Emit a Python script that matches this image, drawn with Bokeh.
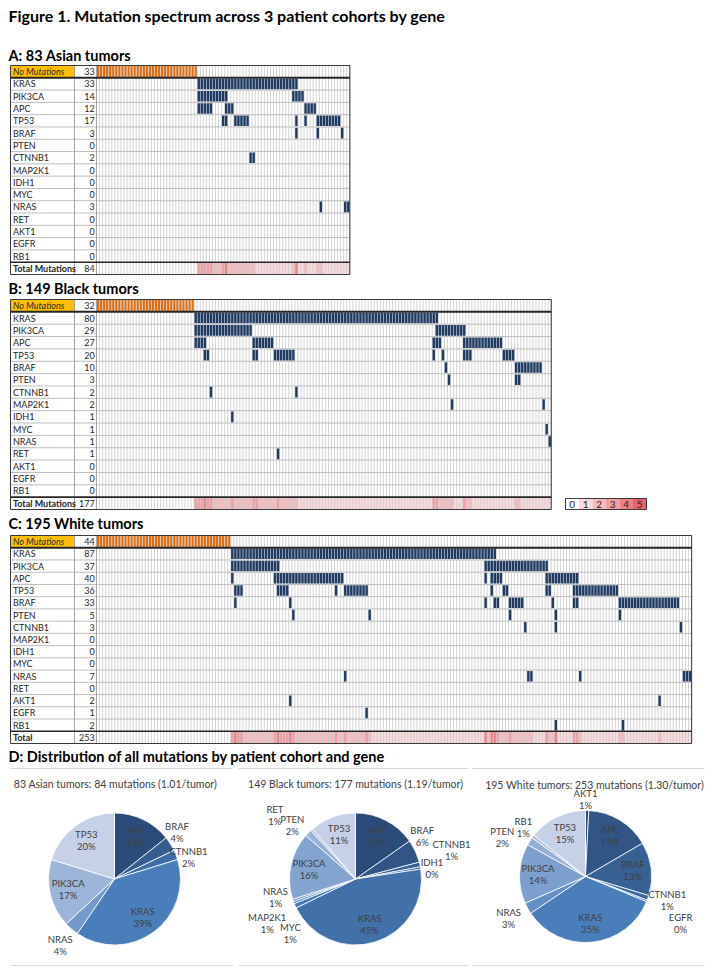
import numpy as np
from bokeh.plotting import figure
from bokeh.models import Range1d
from bokeh.layouts import column
from bokeh.core.properties import value
from bokeh.embed import file_html
from bokeh.resources import INLINE

# ---------------------------------------------------------------- data
TITLE = "Figure 1. Mutation spectrum across 3 patient cohorts by gene"
GENES = ["KRAS", "PIK3CA", "APC", "TP53", "BRAF", "PTEN", "CTNNB1", "MAP2K1",
         "IDH1", "MYC", "NRAS", "RET", "AKT1", "EGFR", "RB1"]

ASIAN_HEADING = "A: 83 Asian tumors"
ASIAN_N = 83
ASIAN_NONE = 33
ASIAN_COUNTS = [33, 14, 12, 17, 3, 0, 2, 0, 0, 0, 3, 0, 0, 0, 0]
ASIAN_TOTAL = 84
# mutated samples (index among mutated samples): [first, last] runs per gene
ASIAN_RUNS = {
    "KRAS": [[0, 32]],
    "PIK3CA": [[0, 9], [31, 34]],
    "APC": [[0, 4], [9, 11], [35, 38]],
    "TP53": [[8, 9], [12, 16], [32, 32], [35, 35], [39, 46]],
    "BRAF": [[32, 32], [39, 39], [47, 47]],
    "CTNNB1": [[17, 18]],
    "NRAS": [[40, 40], [48, 49]],
}

BLACK_HEADING = "B: 149 Black tumors"
BLACK_N = 149
BLACK_NONE = 32
BLACK_COUNTS = [80, 29, 27, 20, 10, 3, 2, 2, 1, 1, 1, 1, 0, 0, 0]
BLACK_TOTAL = 177
BLACK_RUNS = {
    "KRAS": [[0, 79]],
    "PIK3CA": [[0, 18], [79, 88]],
    "APC": [[0, 3], [19, 25], [78, 80], [88, 100]],
    "TP53": [[3, 4], [19, 20], [26, 32], [78, 78], [81, 81], [88, 90], [101, 104]],
    "BRAF": [[82, 82], [105, 113]],
    "PTEN": [[83, 83], [105, 106]],
    "CTNNB1": [[5, 5], [33, 33]],
    "MAP2K1": [[84, 84], [114, 114]],
    "IDH1": [[12, 12]],
    "MYC": [[115, 115]],
    "NRAS": [[116, 116]],
    "RET": [[27, 27]],
}

WHITE_HEADING = "C: 195 White tumors"
WHITE_N = 195
WHITE_NONE = 44
WHITE_COUNTS = [87, 37, 40, 36, 33, 5, 3, 0, 0, 0, 7, 0, 2, 1, 2]
WHITE_TOTAL = 253
WHITE_RUNS = {
    "KRAS": [[0, 86]],
    "PIK3CA": [[0, 15], [83, 103]],
    "APC": [[0, 0], [14, 36], [83, 83], [85, 88], [103, 113]],
    "TP53": [[1, 3], [15, 18], [34, 34], [37, 44], [85, 85], [89, 90], [103, 104], [112, 126]],
    "BRAF": [[1, 1], [19, 19], [83, 83], [86, 87], [91, 95], [105, 105], [112, 113], [127, 146]],
    "PTEN": [[20, 20], [45, 45], [91, 91], [106, 106], [127, 127]],
    "CTNNB1": [[96, 96], [106, 106], [147, 147]],
    "NRAS": [[37, 37], [97, 98], [114, 114], [148, 150]],
    "AKT1": [[19, 19], [140, 140]],
    "EGFR": [[44, 44]],
    "RB1": [[106, 106], [128, 128]],
}

SCALE_LEVELS = [0, 1, 2, 3, 4, 5]

D_HEADING = "D: Distribution of all mutations by patient cohort and gene"
PIE_ASIAN_TITLE = "83 Asian tumors: 84 mutations (1.01/tumor)"
PIE_ASIAN_GENES = ["APC", "BRAF", "CTNNB1", "KRAS", "NRAS", "PIK3CA", "TP53"]
PIE_ASIAN_VALUES = [12, 3, 2, 33, 3, 14, 17]
PIE_ASIAN_PCT = ["14%", "4%", "2%", "39%", "4%", "17%", "20%"]

PIE_BLACK_TITLE = "149 Black tumors: 177 mutations (1.19/tumor)"
PIE_BLACK_GENES = ["APC", "BRAF", "CTNNB1", "IDH1", "KRAS", "MAP2K1", "MYC", "NRAS",
                   "PIK3CA", "PTEN", "RET", "TP53"]
PIE_BLACK_VALUES = [27, 10, 2, 1, 80, 2, 1, 1, 29, 3, 1, 20]
PIE_BLACK_PCT = ["15%", "6%", "1%", "0%", "45%", "1%", "1%", "1%", "16%", "2%", "1%", "11%"]

PIE_WHITE_TITLE = "195 White tumors: 253 mutations (1.30/tumor)"
PIE_WHITE_GENES = ["AKT1", "APC", "BRAF", "CTNNB1", "EGFR", "KRAS", "NRAS", "PIK3CA",
                   "PTEN", "RB1", "TP53"]
PIE_WHITE_VALUES = [2, 40, 33, 3, 1, 87, 7, 37, 5, 2, 36]
PIE_WHITE_PCT = ["1%", "15%", "13%", "1%", "0%", "35%", "3%", "14%", "2%", "1%", "15%"]

# ---------------------------------------------------------------- style / layout
FONT = "Lato"
TXT = "#262626"
GRID_C = "#C8C8C8"
MUT_C = "#1F3B63"
ORANGE = "#E46C0A"
YELLOW = "#FFC000"
SCALE_COLORS = ["#FFFFFF", "#FADADC", "#F5BCC0", "#F09EA3", "#EB8087", "#E6626A"]

PAGE_W = 713
COLW = 3.052          # px per sample column
GRID_LEFT = 96        # page x of first sample column
LABEL_LEFT = 10
DIVIDER = 74
X0 = (0 - GRID_LEFT) / COLW
X1 = X0 + PAGE_W / COLW
XL = (LABEL_LEFT - GRID_LEFT) / COLW
XD = (DIVIDER - GRID_LEFT) / COLW


def base_fig(h, xr, yr):
    p = figure(width=PAGE_W, height=h, x_range=xr, y_range=yr,
               output_backend="svg", toolbar_location=None, min_border=0,
               x_axis_type=None, y_axis_type=None, outline_line_color=None,
               background_fill_color="white", border_fill_color="white")
    return p


def make_panel(fig_top, fig_h, tab_top, tab_bot, n, none, counts, runs, total,
               total_label, heading, heading_py, title=None, title_py=None,
               legend=None):
    rowpx = (tab_bot - tab_top) / 17.0
    ymin = (fig_top - tab_top) / rowpx
    ymax = (fig_top + fig_h - tab_top) / rowpx

    def Y(py):
        return (py - tab_top) / rowpx

    def X(px):
        return (px - GRID_LEFT) / COLW

    p = base_fig(fig_h, Range1d(X0, X1), Range1d(ymax, ymin))

    nm = n - none
    M = np.zeros((len(GENES), nm), dtype=int)
    for gi, g in enumerate(GENES):
        for a, b in runs.get(g, []):
            M[gi, a:b + 1] = 1
    per_sample = np.concatenate([np.zeros(none, dtype=int), M.sum(axis=0)])

    # label cell of "No Mutations"
    p.quad(left=[XL], right=[XD], top=[0], bottom=[1], fill_color=YELLOW, line_color=None)
    # total row colour by number of mutations per sample
    xs = np.arange(n)
    p.quad(left=xs, right=xs + 1, top=[16] * n, bottom=[17] * n,
           fill_color=[SCALE_COLORS[min(c, 5)] for c in per_sample], line_color=None)
    # orange no-mutation cells
    xo = np.arange(none)
    p.quad(left=xo + 0.1, right=xo + 0.9, top=[0.05] * none, bottom=[0.95] * none,
           fill_color=ORANGE, line_color=None)

    # grid
    xv = np.arange(n + 1)
    p.segment(x0=xv, y0=[0] * (n + 1), x1=xv, y1=[17] * (n + 1),
              line_color=GRID_C, line_width=0.8)
    yh = np.arange(2, 16)
    p.segment(x0=[XL] * len(yh), y0=yh, x1=[n] * len(yh), y1=yh,
              line_color="#BDBDBD", line_width=1)
    p.segment(x0=[XD, 0], y0=[0, 0], x1=[XD, 0], y1=[17, 17],
              line_color="#A6A6A6", line_width=1)

    # mutation cells
    gi_idx, sj = np.nonzero(M)
    mx = sj + none
    p.quad(left=mx + 0.1, right=mx + 0.9, top=gi_idx + 1.07, bottom=gi_idx + 1.93,
           fill_color=MUT_C, line_color=None)

    # borders
    p.quad(left=[XL], right=[n], top=[0], bottom=[17], fill_alpha=0,
           line_color="#3A3A3A", line_width=1)
    p.segment(x0=[XL, XL], y0=[1, 16], x1=[n, n], y1=[1, 16],
              line_color="#262626", line_width=[2, 1.6])

    # texts
    fs = "9px"
    p.text(x=[XL + 0.8] * len(GENES), y=np.arange(len(GENES)) + 1.5, text=GENES,
           text_font=value(FONT), text_font_size=fs, text_color=TXT,
           text_baseline="middle", text_align="left")
    p.text(x=[-0.6] * len(GENES), y=np.arange(len(GENES)) + 1.5,
           text=[str(c) for c in counts], text_font=value(FONT),
           text_font_size=fs, text_color=TXT, text_baseline="middle",
           text_align="right")
    p.text(x=[XL + 0.8], y=[0.5], text=["No Mutations"], text_font=value(FONT),
           text_font_size=fs, text_font_style="italic", text_color=TXT,
           text_baseline="middle")
    p.text(x=[-0.6], y=[0.5], text=[str(none)], text_font=value(FONT),
           text_font_size=fs, text_color=TXT, text_baseline="middle",
           text_align="right")
    p.text(x=[XL + 0.8], y=[16.5], text=[total_label], text_font=value(FONT),
           text_font_size=fs, text_font_style="bold", text_color=TXT,
           text_baseline="middle")
    p.text(x=[-0.6], y=[16.5], text=[str(total)], text_font=value(FONT),
           text_font_size=fs, text_color=TXT, text_baseline="middle",
           text_align="right")

    p.text(x=[X(8)], y=[Y(heading_py)], text=[heading], text_font=value(FONT),
           text_font_size="14.5px", text_font_style="bold", text_color="black",
           text_baseline="middle")
    if title is not None:
        p.text(x=[X(8)], y=[Y(title_py)], text=[title], text_font=value(FONT),
               text_font_size="16px", text_font_style="bold", text_color="black",
               text_baseline="middle")

    if legend is not None:
        lx0, lx1, ly0, ly1 = legend
        k = len(SCALE_LEVELS)
        w = (X(lx1) - X(lx0)) / k
        lefts = X(lx0) + w * np.arange(k)
        p.quad(left=lefts, right=lefts + w, top=[Y(ly0)] * k, bottom=[Y(ly1)] * k,
               fill_color=SCALE_COLORS, line_color=None)
        p.quad(left=[X(lx0)], right=[X(lx1)], top=[Y(ly0)], bottom=[Y(ly1)],
               fill_alpha=0, line_color="#3A3A3A", line_width=1)
        p.text(x=lefts + w / 2, y=[Y((ly0 + ly1) / 2)] * k,
               text=[str(v) for v in SCALE_LEVELS], text_font=value(FONT),
               text_font_size="10px", text_color=TXT, text_align="center",
               text_baseline="middle")
    return p


pA = make_panel(0, 279, 65, 274, ASIAN_N, ASIAN_NONE, ASIAN_COUNTS, ASIAN_RUNS,
                ASIAN_TOTAL, "Total Mutations", ASIAN_HEADING, 54.5,
                title=TITLE, title_py=14.5)
pB = make_panel(279, 234, 299, 509, BLACK_N, BLACK_NONE, BLACK_COUNTS, BLACK_RUNS,
                BLACK_TOTAL, "Total Mutations", BLACK_HEADING, 288,
                legend=(565, 646, 498, 509))
pC = make_panel(513, 235, 535, 743, WHITE_N, WHITE_NONE, WHITE_COUNTS, WHITE_RUNS,
                WHITE_TOTAL, "Total", WHITE_HEADING, 523)

# ---------------------------------------------------------------- pies
D_TOP, D_H = 748, 222
pD = base_fig(D_H, Range1d(0, PAGE_W), Range1d(-(D_TOP + D_H), -D_TOP))

DARK = np.array([0x2B, 0x4C, 0x78])
MID = np.array([0x4A, 0x7E, 0xBB])
LIGHT = np.array([0xC6, 0xD1, 0xE7])


def grad(t):
    if t <= 0.5:
        c = DARK + (MID - DARK) * (t / 0.5)
    else:
        c = MID + (LIGHT - MID) * ((t - 0.5) / 0.5)
    c = np.round(c).astype(int)
    return "#%02x%02x%02x" % tuple(c)


def draw_pie(p, cx, cy, r, genes, vals, pcts, title, title_xy, tweaks):
    v = np.array(vals, dtype=float)
    frac = v / v.sum()
    cum = np.concatenate([[0.0], np.cumsum(frac)])
    k = len(v)
    cols = [grad(i / (k - 1)) for i in range(k)]
    start = np.pi / 2 - 2 * np.pi * cum[1:]
    end = np.pi / 2 - 2 * np.pi * cum[:-1]
    p.wedge(x=[cx] * k, y=[-cy] * k, radius=r, start_angle=start, end_angle=end,
            fill_color=cols, line_color="white", line_width=0.8)
    lx, ly = [], []
    for i in range(k):
        m = (cum[i] + cum[i + 1]) / 2
        f = 0.72 if frac[i] >= 0.095 else 1.22
        dang = 0.0
        if genes[i] in tweaks:
            f, dang = tweaks[genes[i]]
        th = 2 * np.pi * m + np.radians(dang)
        lx.append(cx + f * r * np.sin(th))
        ly.append(-cy + f * r * np.cos(th))
    lx = np.array(lx)
    ly = np.array(ly)
    p.text(x=lx, y=ly + 6, text=genes, text_font=value(FONT), text_font_size="9.5px",
           text_color="#404040", text_align="center", text_baseline="middle")
    p.text(x=lx, y=ly - 6, text=pcts, text_font=value(FONT), text_font_size="9.5px",
           text_color="#404040", text_align="center", text_baseline="middle")
    p.text(x=[title_xy[0]], y=[-title_xy[1]], text=[title], text_font=value(FONT),
           text_font_size="10.5px", text_color="#404040", text_align="center",
           text_baseline="middle")


# label placement tweaks: (radius factor, angular shift in degrees)
draw_pie(pD, 114, 878.5, 66, PIE_ASIAN_GENES, PIE_ASIAN_VALUES, PIE_ASIAN_PCT,
         PIE_ASIAN_TITLE, (115, 783),
         {"BRAF": (1.18, -4.5), "CTNNB1": (1.17, 5), "NRAS": (1.3, -1.5)})
draw_pie(pD, 355, 878.5, 66, PIE_BLACK_GENES, PIE_BLACK_VALUES, PIE_BLACK_PCT,
         PIE_BLACK_TITLE, (355, 783),
         {"RET": (1.556, -10), "PTEN": (1.256, -4), "BRAF": (1.2, -7.6),
          "CTNNB1": (1.517, -3.8), "IDH1": (1.17, 2), "NRAS": (1.243, 6),
          "MAP2K1": (1.5, -3), "MYC": (1.29, -19.3)})
draw_pie(pD, 585, 876, 66, PIE_WHITE_GENES, PIE_WHITE_VALUES, PIE_WHITE_PCT,
         PIE_WHITE_TITLE, (594, 784.5),
         {"AKT1": (1.17, -1.4), "RB1": (1.2, 1), "PTEN": (1.395, -7),
          "CTNNB1": (1.29, -2.5), "EGFR": (1.61, 4.8), "NRAS": (1.33, 0)})

pD.segment(x0=[10, 238, 472, 10, 238, 472], y0=[-768, -768, -768, -965, -965, -965],
           x1=[232, 468, 704, 232, 468, 704], y1=[-768, -768, -768, -965, -965, -965],
           line_color="#D9D9D9", line_width=1)
pD.text(x=[8], y=[-756], text=[D_HEADING], text_font=value(FONT), text_font_size="14.5px",
        text_font_style="bold", text_color="black", text_baseline="middle")

layout = column(pA, pB, pC, pD, spacing=0)
open("out.html", "w").write(file_html(layout, INLINE))
